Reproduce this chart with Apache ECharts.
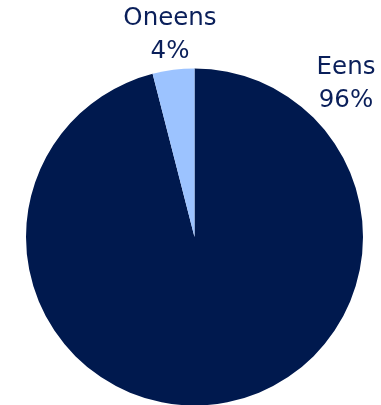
<!DOCTYPE html>
<html>
<head>
<meta charset="utf-8">
<style>
  html, body { margin: 0; padding: 0; background: #ffffff; }
  #chart { width: 381px; height: 405px; }
</style>
<script src="https://cdn.jsdelivr.net/npm/echarts@6/dist/echarts.min.js"></script>
</head>
<body>
<div id="chart"></div>
<script>
// Answer shares
const categories = ['Eens', 'Oneens'];
const shares = [96, 4];
const sliceColors = ['#00194e', '#9cc3ff'];

// Label anchor points (pixel centres of each label block)
const labelSpots = [[346, 84], [170, 35]];

const chart = echarts.init(document.getElementById('chart'), null, { renderer: 'canvas' });

chart.setOption({
  animation: false,
  series: [{
    type: 'pie',
    center: [194.5, 237],
    radius: 168.5,
    startAngle: 90,
    clockwise: true,
    data: categories.map((name, i) => ({
      name: name,
      value: shares[i],
      itemStyle: { color: sliceColors[i] }
    })),
    label: {
      show: true,
      position: 'outside',
      formatter: p => p.name + '\n' + p.value + '%',
      fontFamily: 'DejaVu Sans',
      fontSize: 24.5,
      lineHeight: 33,
      color: '#0a1f5a',
      align: 'center'
    },
    labelLine: { show: false },
    labelLayout: params => ({
      x: labelSpots[params.dataIndex][0],
      y: labelSpots[params.dataIndex][1],
      align: 'center',
      verticalAlign: 'middle'
    }),
    emphasis: { disabled: true }
  }]
});
</script>
</body>
</html>
